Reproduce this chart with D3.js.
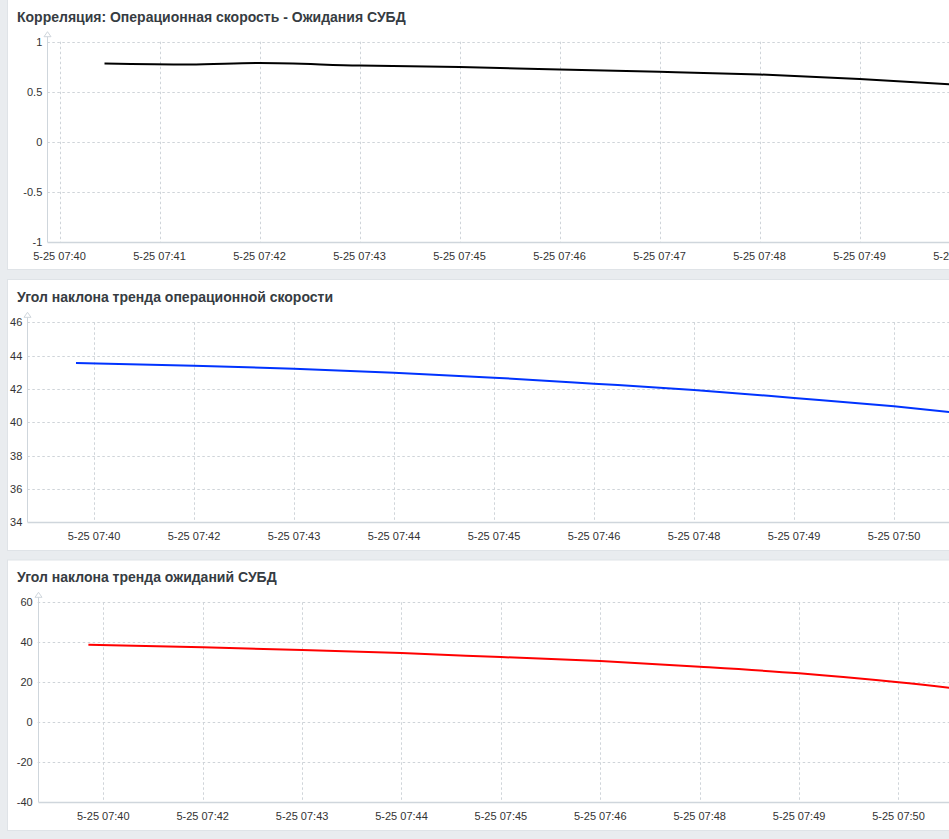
<!DOCTYPE html>
<html>
<head>
<meta charset="utf-8">
<script src="https://cdn.jsdelivr.net/npm/d3@7"></script>
<style>
  html, body { margin: 0; padding: 0; background: #e9ecef; overflow: hidden; }
  svg { display: block; }
</style>
</head>
<body>
<svg></svg>
<script>
// données des trois graphiques (x = position en pas de libellé)
const corrTitle = "Корреляция: Операционная скорость - Ожидания СУБД";
const corrTicks = ["5-25 07:40", "5-25 07:41", "5-25 07:42", "5-25 07:43", "5-25 07:45",
                   "5-25 07:46", "5-25 07:47", "5-25 07:48", "5-25 07:49", "5-25 07:50"];
const corrX = [0.45, 1.3, 2, 3, 4, 5, 6, 7, 8, 9];
const corrY = [0.783, 0.773, 0.787, 0.762, 0.747, 0.722, 0.70, 0.673, 0.628, 0.57];
const corrYTicks = [-1, -0.5, 0, 0.5, 1];

const speedTitle = "Угол наклона тренда операционной скорости";
const speedTicks = ["5-25 07:40", "5-25 07:42", "5-25 07:43", "5-25 07:44", "5-25 07:45",
                    "5-25 07:46", "5-25 07:48", "5-25 07:49", "5-25 07:50"];
const speedX = [-0.18, 1, 2, 3, 4, 5, 6, 7, 8, 9];
const speedY = [43.56, 43.40, 43.21, 42.98, 42.68, 42.32, 41.94, 41.46, 40.96, 40.35];
const speedYTicks = [34, 36, 38, 40, 42, 44, 46];

const waitTitle = "Угол наклона тренда ожиданий СУБД";
const waitTicks = speedTicks;
const waitX = [-0.15, 1, 2, 3, 4, 5, 6, 7, 8, 9];
const waitY = [38.8, 37.5, 36.2, 34.6, 32.6, 30.6, 27.8, 24.5, 20.0, 14.5];
const waitYTicks = [-40, -20, 0, 20, 40, 60];

const width = 949;
const height = 839;
const svg = d3.select("svg").attr("width", width).attr("height", height);

svg.append("rect").attr("width", width).attr("height", height).attr("fill", "#e9ecef");

const gridColor = "#cfd4d9";
const axisColor = "#cfd6dc";

function drawPanel(cfg) {
    const g = svg.append("g");
    // fond blanc du panneau
    g.append("rect")
        .attr("x", 7.5).attr("y", cfg.top + 0.5)
        .attr("width", 1100).attr("height", cfg.h)
        .attr("fill", "#fff").attr("stroke", "#dfe3e7");

    g.append("text")
        .attr("x", 17).attr("y", cfg.titleY)
        .attr("font-family", "Liberation Sans, Arial, sans-serif")
        .attr("font-size", 14).attr("font-weight", "bold")
        .attr("fill", "#363c42")
        .text(cfg.title);

    const x = d3.scaleLinear().domain([0, 1]).range([cfg.x0, cfg.x0 + cfg.step]);
    const y = d3.scaleLinear().domain(d3.extent(cfg.yTicks)).range([cfg.yBottom, cfg.yTop]);
    const right = 1100;

    // grille horizontale
    g.selectAll(".hgrid")
        .data(cfg.yTicks.slice(1))
        .join("line")
        .attr("x1", cfg.axisX).attr("x2", right)
        .attr("y1", d => Math.round(y(d)) + 0.5).attr("y2", d => Math.round(y(d)) + 0.5)
        .attr("stroke", gridColor).attr("stroke-dasharray", "2.5,2.5");

    // grille verticale
    g.selectAll(".vgrid")
        .data(cfg.ticks)
        .join("line")
        .attr("x1", (d, i) => Math.round(x(i)) + 0.5).attr("x2", (d, i) => Math.round(x(i)) + 0.5)
        .attr("y1", cfg.yTop).attr("y2", cfg.yBottom)
        .attr("stroke", gridColor).attr("stroke-dasharray", "2.5,2.5");

    // axes
    const ax = Math.round(cfg.axisX) + 0.5;
    g.append("line")
        .attr("x1", ax).attr("x2", ax)
        .attr("y1", cfg.yTop - 6).attr("y2", cfg.yBottom)
        .attr("stroke", axisColor);
    g.append("path")
        .attr("d", `M${ax},${cfg.yTop - 10}L${ax - 3.5},${cfg.yTop - 5}L${ax + 3.5},${cfg.yTop - 5}Z`)
        .attr("fill", "#fff").attr("stroke", axisColor);
    g.append("line")
        .attr("x1", ax).attr("x2", right)
        .attr("y1", Math.round(cfg.yBottom) + 0.5).attr("y2", Math.round(cfg.yBottom) + 0.5)
        .attr("stroke", axisColor).attr("stroke-width", 1.5);

    // libellés
    g.selectAll(".ylab")
        .data(cfg.yTicks)
        .join("text")
        .attr("x", cfg.axisX - 5).attr("y", d => y(d))
        .attr("text-anchor", "end").attr("dominant-baseline", "central")
        .attr("font-family", "Liberation Sans, Arial, sans-serif")
        .attr("font-size", 11).attr("fill", "#333")
        .text(d => d);

    g.selectAll(".xlab")
        .data(cfg.ticks)
        .join("text")
        .attr("x", (d, i) => x(i)).attr("y", cfg.yBottom + 14)
        .attr("text-anchor", "middle").attr("dominant-baseline", "central")
        .attr("font-family", "Liberation Sans, Arial, sans-serif")
        .attr("font-size", 11).attr("fill", "#333")
        .text(d => d);

    // courbe
    const pts = cfg.xs.map((d, i) => [d, cfg.ys[i]]);
    const line = d3.line()
        .x(d => x(d[0]))
        .y(d => y(d[1]))
        .curve(d3.curveMonotoneX);
    g.append("path")
        .datum(pts)
        .attr("d", line)
        .attr("fill", "none")
        .attr("stroke", cfg.color)
        .attr("stroke-width", 2);
}

drawPanel({
    title: corrTitle, ticks: corrTicks, xs: corrX, ys: corrY, yTicks: corrYTicks,
    top: -1, h: 270, titleY: 21.7, x0: 59.5, step: 100,
    axisX: 47.3, yTop: 41.7, yBottom: 242.3, color: "#000"
});
drawPanel({
    title: speedTitle, ticks: speedTicks, xs: speedX, ys: speedY, yTicks: speedYTicks,
    top: 279, h: 271, titleY: 301.7, x0: 94, step: 100,
    axisX: 27.3, yTop: 322.3, yBottom: 522.3, color: "#0033ff"
});
drawPanel({
    title: waitTitle, ticks: waitTicks, xs: waitX, ys: waitY, yTicks: waitYTicks,
    top: 559.5, h: 270.5, titleY: 581.7, x0: 103.3, step: 99.4,
    axisX: 37.7, yTop: 602.3, yBottom: 802.3, color: "#ff0000"
});
</script>
</body>
</html>
